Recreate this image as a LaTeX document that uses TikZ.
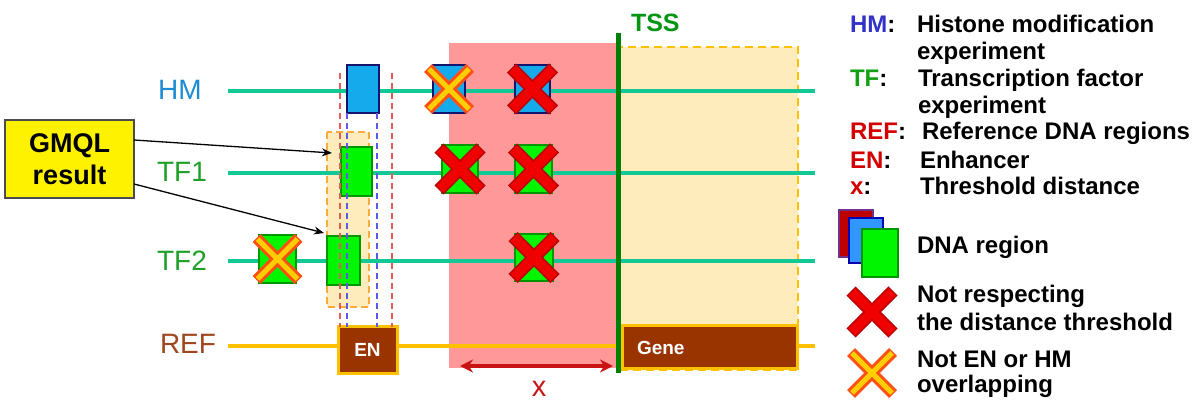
\documentclass[tikz,border=0pt]{standalone}
\usepackage{fontspec}
\setmainfont{Liberation Sans}
\usetikzlibrary{arrows.meta,calc}

\definecolor{trackc}{RGB}{20,200,150}
\definecolor{refc}{RGB}{255,192,0}
\definecolor{pinkc}{RGB}{255,153,153}
\definecolor{paleyel}{RGB}{255,236,188}
\definecolor{skyc}{RGB}{20,170,235}
\definecolor{navyc}{RGB}{20,20,110}
\definecolor{greenbox}{RGB}{0,245,0}
\definecolor{greenedge}{RGB}{0,150,0}
\definecolor{brownc}{RGB}{153,51,0}
\definecolor{tssc}{RGB}{0,128,0}
\definecolor{tsstext}{RGB}{0,150,20}
\definecolor{hmlabel}{RGB}{30,140,210}
\definecolor{tflabel}{RGB}{30,160,40}
\definecolor{reflabel}{RGB}{160,70,30}
\definecolor{legblue}{RGB}{50,50,200}
\definecolor{leggreen}{RGB}{20,160,20}
\definecolor{legred}{RGB}{210,0,0}
\definecolor{xred}{RGB}{200,20,20}
\definecolor{crossdark}{RGB}{190,0,0}
\definecolor{crossred}{RGB}{240,0,0}
\definecolor{crossorange}{RGB}{255,80,20}
\definecolor{crossyellow}{RGB}{255,205,0}
\definecolor{dashred}{RGB}{230,90,90}
\definecolor{dashblue}{RGB}{90,90,230}
\definecolor{dashorange}{RGB}{255,170,60}
\definecolor{iconred}{RGB}{190,0,0}
\definecolor{iconredge}{RGB}{110,50,140}
\definecolor{iconblue}{RGB}{50,150,255}

% a red cross: dark rim under a bright core
\newcommand\redX[1]{%
  \draw[line width=13, crossdark] ($(#1)+(-21,-21)$) -- ($(#1)+(21,21)$)
                                  ($(#1)+(-21,21)$) -- ($(#1)+(21,-21)$);
  \draw[line width=9.5, crossred] ($(#1)+(-20,-20)$) -- ($(#1)+(20,20)$)
                                ($(#1)+(-20,20)$) -- ($(#1)+(20,-20)$);}
% an orange cross with a yellow core
\newcommand\orangeX[1]{%
  \draw[line width=11, crossorange] ($(#1)+(-21,-21)$) -- ($(#1)+(21,21)$)
                                    ($(#1)+(-21,21)$) -- ($(#1)+(21,-21)$);
  \draw[line width=5, crossyellow] ($(#1)+(-20,-20)$) -- ($(#1)+(20,20)$)
                                   ($(#1)+(-20,20)$) -- ($(#1)+(20,-20)$);}

\begin{document}
\begin{tikzpicture}[x=1pt,y=-1pt,
  every node/.style={inner sep=0pt, outer sep=0pt},
  track/.style={line width=4.5, trackc},
  refline/.style={line width=4.5, refc},
  hmbox/.style={draw=navyc, line width=2, fill=skyc, rectangle},
  tfbox/.style={draw=greenedge, line width=1.5, fill=greenbox, rectangle},
  brownbox/.style={draw=refc, line width=3, fill=brownc, rectangle,
    text=white, font=\bfseries\fontsize{19}{19}\selectfont},
  tracklabel/.style={font=\fontsize{28}{30}\selectfont},
  legend/.style={anchor=base west, font=\bfseries\fontsize{24}{26}\selectfont},
  pointer/.style={-{Stealth[length=10,width=8]}, line width=1.3, black},
  guide/.style={dashed, line width=1.3, dash pattern=on 6pt off 4pt},
]
\useasboundingbox (0,0) rectangle (1203,401);

% backgrounds: promoter band and gene body
\fill[pinkc] (449,43) rectangle (617,368);
\draw[refc, line width=2, dashed, dash pattern=on 8pt off 5pt, fill=paleyel]
  (618,47) rectangle (798,370);
% candidate enhancer window
\draw[dashorange, line width=2, dashed, dash pattern=on 7pt off 4pt, fill=paleyel]
  (327,132) rectangle (369,307);

% tracks
\coordinate (hmL) at (228,91);   \coordinate (hmR) at (815,91);
\coordinate (tf1L) at (228,173); \coordinate (tf1R) at (815,173);
\coordinate (tf2L) at (228,261); \coordinate (tf2R) at (815,261);
\coordinate (refL) at (228,346); \coordinate (refR) at (815,346);
\draw[track] (hmL) -- (hmR);
\draw[track] (tf1L) -- (tf1R);
\draw[track] (tf2L) -- (tf2R);
\draw[refline] (refL) -- (refR);

% track labels
\node[tracklabel, text=hmlabel] (lblHM) at (180,90) {HM};
\node[tracklabel, text=tflabel] (lblTF1) at (182,172) {TF1};
\node[tracklabel, text=tflabel] (lblTF2) at (182,261) {TF2};
\node[tracklabel, text=reflabel] (lblREF) at (188,344) {REF};

% regions
\node[hmbox, minimum width=32, minimum height=48] (hm0) at (363,89) {};
\node[tfbox, minimum width=31, minimum height=49] (tf1a) at (356.5,171.5) {};
\node[tfbox, minimum width=33, minimum height=49] (tf2a) at (343.5,260.5) {};
\node[tfbox, minimum width=37, minimum height=48] (tf2x) at (277.5,259) {};
\node[hmbox, minimum width=32, minimum height=48] (hm1) at (449,89) {};
\node[hmbox, minimum width=35, minimum height=48] (hm2) at (532.5,89) {};
\node[tfbox, minimum width=36, minimum height=48] (tf1b) at (460,169) {};
\node[tfbox, minimum width=37, minimum height=48] (tf1c) at (533.5,169) {};
\node[tfbox, minimum width=38, minimum height=47] (tf2c) at (534,257.5) {};

% reference regions
\node[brownbox, minimum width=59, minimum height=47] (en) at (367.5,349.5) {EN};
\node[brownbox, minimum width=175, minimum height=43] (gene) at (709.5,346.5) {};
\node[anchor=west, text=white, font=\bfseries\fontsize{19}{19}\selectfont]
  (genetxt) at (637,348) {Gene};

% overlap guides
\draw[guide, dashred] (340,73) -- (340,327);
\draw[guide, dashred] (392,73) -- (392,327);
\draw[guide, dashblue] (347,113) -- (347,327);
\draw[guide, dashblue] (377,113) -- (377,327);

% rejected regions
\orangeX{tf2x}
\orangeX{hm1}
\redX{hm2}
\redX{tf1b}
\redX{tf1c}
\redX{tf2c}

% TSS marker
\coordinate (tssT) at (618,33); \coordinate (tssB) at (618,373);
\draw[tssc, line width=5] (tssT) -- (tssB);
\node[anchor=base west, text=tsstext, font=\bfseries\fontsize{25}{25}\selectfont]
  (tss) at (631,32) {TSS};

% threshold distance
\coordinate (xl) at (460,366); \coordinate (xr) at (613,366);
\draw[xred, line width=3.2, {Stealth[length=13,width=13]}-{Stealth[length=13,width=13]}] (xl) -- (xr);
\node[anchor=base, text=xred, font=\fontsize{29}{29}\selectfont] (xlbl) at (539,396) {x};

% query result callout
\node[draw=black!70, line width=1.5, fill=yellow, minimum width=129, minimum height=78,
  align=center, font=\bfseries\fontsize{27}{32}\selectfont] (gmql) at (69.5,159) {GMQL\\result};
\coordinate (g1) at (134,140); \coordinate (g2) at (134,184);
\coordinate (p1) at (332,153); \coordinate (p2) at (324,233);
\draw[pointer] (g1) -- (p1);
\draw[pointer] (g2) -- (p2);

% legend
\node[legend] (lk1) at (850,33) {\textcolor{legblue}{HM}:};
\node[legend] (lv1) at (917,33) {Histone modification};
\node[legend] (lv1b) at (917,60) {experiment};
\node[legend] (lk2) at (850,87) {\textcolor{leggreen}{TF}:};
\node[legend] (lv2) at (918,87) {Transcription factor};
\node[legend] (lv2b) at (918,114) {experiment};
\node[legend] (lk3) at (850,140) {\textcolor{legred}{REF}:};
\node[legend] (lv3) at (922,140) {Reference DNA regions};
\node[legend] (lk4) at (850,168) {\textcolor{legred}{EN}:};
\node[legend] (lv4) at (920,168) {Enhancer};
\node[legend] (lk5) at (850,195) {\textcolor{legred}{x}:};
\node[legend] (lv5) at (920,195) {Threshold distance};

\node[draw=iconredge, line width=1.2, fill=iconred, minimum width=34, minimum height=47] (ic1) at (856,233.5) {};
\node[draw=blue!70!black, line width=1.2, fill=iconblue, minimum width=34, minimum height=45] (ic2) at (866,240.5) {};
\node[tfbox, minimum width=36, minimum height=48] (ic3) at (880,253) {};
\node[legend] (lv6) at (917,253) {DNA region};

\coordinate (icx1) at (872,312);
\redX{icx1}
\node[legend] (lv7) at (917,302) {Not respecting};
\node[legend] (lv7b) at (917,330) {the distance threshold};

\coordinate (icx2) at (872,373);
\orangeX{icx2}
\node[legend] (lv8) at (917,367) {Not EN or HM};
\node[legend] (lv8b) at (917,392) {overlapping};
\end{tikzpicture}
\end{document}
